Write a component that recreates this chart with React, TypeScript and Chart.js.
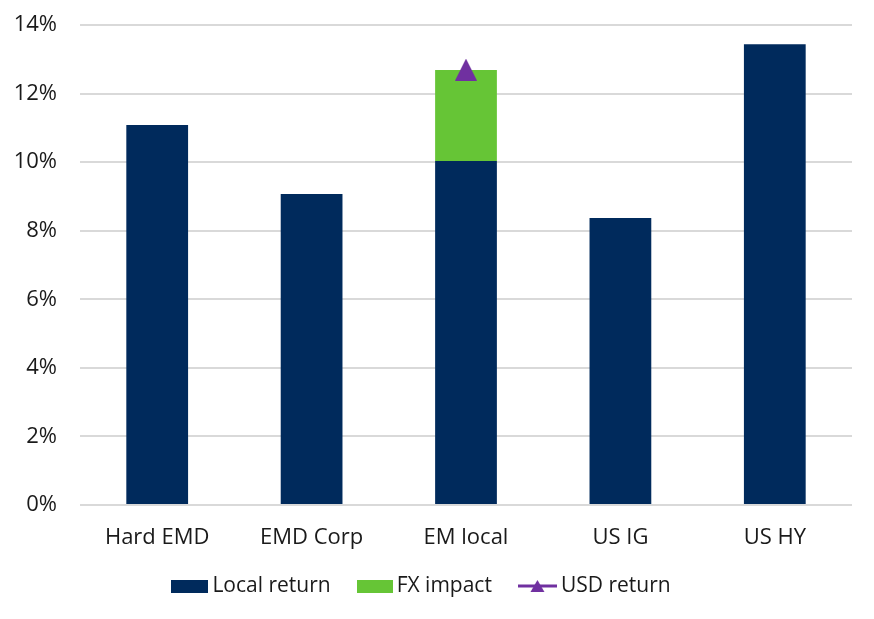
import React, { useEffect, useRef } from "react";
import { Chart, registerables } from "chart.js";

Chart.register(...registerables);

const categories = ["Hard EMD", "EMD Corp", "EM local", "US IG", "US HY"];
const localReturn = [11.08, 9.07, 10.03, 8.37, 13.44];
const fxImpact = [null, null, 2.66, null, null];
const usdReturn = [null, null, 12.7, null, null];
const yTicks = [0, 2, 4, 6, 8, 10, 12, 14];
const legendNames = ["Local return", "FX impact", "USD return"];

const NAVY = "#002A5C";
const GREEN = "#66C536";
const PURPLE = "#7030A0";
const TEXT = "#1a1a1a";
const FONT = "'Open Sans', 'Noto Sans', sans-serif";

function makeCanvas(w: number, h: number, draw: (ctx: CanvasRenderingContext2D) => void) {
  const c = document.createElement("canvas");
  c.width = w;
  c.height = h;
  const ctx = c.getContext("2d")!;
  draw(ctx);
  return c;
}

export default function App() {
  const ref = useRef<HTMLCanvasElement>(null);
  useEffect(() => {
    document.body.style.margin = "0";
    const triangle = makeCanvas(22, 22, (ctx) => {
      ctx.fillStyle = PURPLE;
      ctx.beginPath();
      ctx.moveTo(11, 0);
      ctx.lineTo(22, 22);
      ctx.lineTo(0, 22);
      ctx.closePath();
      ctx.fill();
    });
    const legLocal = makeCanvas(37, 13, (ctx) => {
      ctx.fillStyle = NAVY;
      ctx.fillRect(0, 0, 37, 13);
    });
    const legFx = makeCanvas(36, 13, (ctx) => {
      ctx.fillStyle = GREEN;
      ctx.fillRect(0, 0, 36, 13);
    });
    const legUsd = makeCanvas(39, 14, (ctx) => {
      ctx.strokeStyle = PURPLE;
      ctx.lineWidth = 3;
      ctx.beginPath();
      ctx.moveTo(0, 7);
      ctx.lineTo(39, 7);
      ctx.stroke();
      ctx.fillStyle = PURPLE;
      ctx.beginPath();
      ctx.moveTo(19.5, 1);
      ctx.lineTo(26.5, 13);
      ctx.lineTo(12.5, 13);
      ctx.closePath();
      ctx.fill();
    });
    const legendImgs = [legLocal, legFx, legUsd];

    const customLegend = {
      id: "customLegend",
      afterDraw(chart: any) {
        const ctx = chart.ctx as CanvasRenderingContext2D;
        ctx.save();
        ctx.font = `21px ${FONT}`;
        ctx.textBaseline = "middle";
        ctx.fillStyle = TEXT;
        const gapBoxText = 4;
        const gapItems = 26;
        const widths = legendNames.map((t, i) => legendImgs[i].width + gapBoxText + ctx.measureText(t).width);
        const total = widths.reduce((a, b) => a + b, 0) + gapItems * (legendNames.length - 1);
        let x = chart.width / 2 - 16 - total / 2;
        const cy = 586;
        legendNames.forEach((t, i) => {
          const img = legendImgs[i];
          ctx.drawImage(img, x, cy - img.height / 2);
          ctx.fillText(t, x + img.width + gapBoxText, cy);
          x += widths[i] + gapItems;
        });
        ctx.restore();
      },
    };

    const chart = new Chart(ref.current!, {
      type: "bar",
      data: {
        labels: categories,
        datasets: [
          {
            label: "Local return",
            data: localReturn,
            backgroundColor: NAVY,
            barPercentage: 0.4,
            categoryPercentage: 1,
            order: 1,
          },
          {
            label: "FX impact",
            data: fxImpact,
            backgroundColor: GREEN,
            barPercentage: 0.4,
            categoryPercentage: 1,
            order: 1,
          },
          {
            type: "line",
            label: "USD return",
            data: usdReturn,
            showLine: false,
            pointStyle: triangle,
            borderColor: PURPLE,
            backgroundColor: PURPLE,
            order: -1,
          } as any,
        ],
      },
      plugins: [customLegend],
      options: {
        animation: false,
        responsive: false,
        maintainAspectRatio: false,
        layout: { autoPadding: false, padding: { top: 25, right: 22, left: 0, bottom: 64 } },
        plugins: {
          tooltip: { enabled: false },
          legend: { display: false },
        },
        scales: {
          x: {
            stacked: true,
            grid: { display: false, drawTicks: false },
            border: { display: false },
            afterFit: (s: any) => {
              s.height = 50;
            },
            ticks: { color: TEXT, font: { family: FONT, size: 22 }, padding: 20 },
          },
          y: {
            stacked: true,
            min: 0,
            max: 14,
            afterFit: (s: any) => {
              s.width = 80;
              s.paddingTop = 0;
              s.paddingBottom = 0;
            },
            afterBuildTicks: (s: any) => {
              s.ticks = yTicks.map((v) => ({ value: v }));
            },
            grid: { color: "#d9d9d9", lineWidth: 2, drawTicks: false },
            border: { display: false },
            ticks: {
              color: TEXT,
              font: { family: FONT, size: 22 },
              padding: 23,
              callback: (v: any) => v + "%",
            },
          },
        },
      },
    });
    return () => chart.destroy();
  }, []);
  return (
    <div style={{ width: 874, height: 619 }}>
      <canvas ref={ref} width={874} height={619} style={{ display: "block" }} />
    </div>
  );
}
